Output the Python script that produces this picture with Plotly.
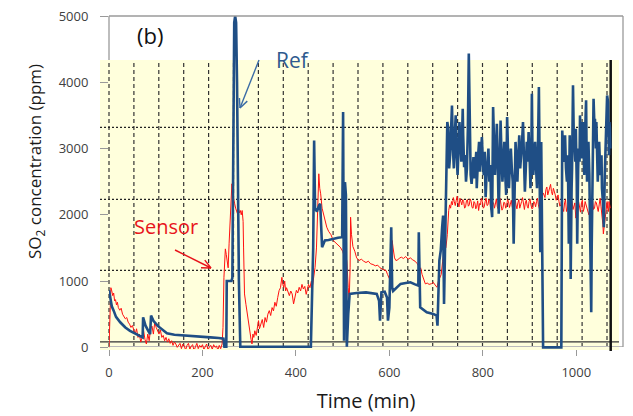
import math
import plotly.graph_objects as go

# ---------------- data ----------------
ref_t = [0, 3, 6, 10, 15, 24, 35, 45, 52, 62, 72, 73, 78, 84, 88, 90, 95, 105, 115, 124,
         140, 160, 180, 200, 217, 235, 245, 247, 251, 252, 262, 264, 266, 268, 270, 272, 274,
         276, 278, 281, 300, 350, 400, 432, 437, 439, 441, 445, 450, 452, 456, 462, 470, 480,
         490, 499, 501, 503, 505, 507, 509, 512, 515, 530, 550, 573, 578, 580, 583, 590, 595,
         597, 600, 604, 606, 608, 620, 624, 635, 645, 655, 662, 663, 666, 680, 694, 701, 703,
         707, 710, 713, 715, 717, 719, 721,
         722, 724, 726, 728, 730, 732, 734, 736, 738, 740, 742, 744, 746, 748, 750, 752, 754,
         756, 757, 758, 760, 762, 764, 766, 767, 768, 770, 772, 773, 774, 776, 778, 780, 782,
         784, 786, 787, 788, 790, 792, 794, 796, 798, 800, 802, 804, 806, 808, 810, 812, 814,
         816, 818, 820, 822, 824, 826, 828, 830, 832, 834, 836, 838, 840, 842, 844, 846, 848,
         850, 852, 854, 856, 858, 860, 862, 864, 866, 868, 870, 872, 874, 876, 878, 880, 882,
         884, 886, 888, 890, 892, 894, 896, 898, 900, 902, 904, 905, 906, 908, 910, 912, 914,
         916, 918, 920, 921, 923, 925, 927, 929,
         968, 970, 972, 973, 975, 976, 978, 980, 982, 984, 985, 986, 987, 988, 990, 991, 993,
         995, 996, 998, 999, 1001, 1002, 1004, 1005, 1007, 1008, 1010, 1011, 1013, 1014, 1016,
         1017, 1019, 1021, 1022, 1023, 1025, 1026, 1028, 1029, 1031, 1032, 1033, 1034, 1036,
         1037, 1039, 1040, 1042, 1043, 1045, 1046, 1048, 1049, 1051, 1052, 1054, 1055, 1057,
         1059, 1061, 1062, 1064, 1065, 1066, 1068, 1069, 1070, 1071, 1072, 1073]
ref_v = [860, 700, 620, 554, 460, 378, 300, 250, 227, 185, 151, 453, 330, 250, 200, 479, 400,
         320, 260, 211, 190, 177, 165, 160, 151, 140, 130, 10, 10, 1000, 1000, 1050, 3000, 4900,
         5000, 4900, 4000, 2500, 1000, 10, 10, 10, 10, 10, 1500, 3120, 2100, 2050, 2150, 2166,
         1510, 1612, 1620, 1642, 1655, 1662, 3550, 100, 2493, 2300, 10, 500, 806, 820, 830, 806,
         700, 403, 830, 840, 750, 403, 600, 1812, 900, 850, 932, 958, 970, 982, 950, 932, 1737,
         604, 529, 504, 479, 328, 1310, 1461, 1813, 1989, 655, 1500, 2500,
         2971, 3400, 3300, 2700, 2900, 3300, 3650, 3000, 2700, 3200, 3500, 2900, 2600, 3000,
         3400, 3100, 2800, 3300, 3600, 3200, 2719, 2900, 2500, 2700, 2900, 3300, 4432, 3200,
         2719, 2600, 2468, 2700, 2870, 2550, 2700, 2950, 2400, 2650, 2900, 3100, 2650, 2900,
         3172, 2800, 2600, 2950, 2266, 2600, 2800, 3000, 2500, 2750, 2115, 1964, 3625, 3000,
         2600, 2900, 3374, 2800, 2015, 2700, 3424, 2900, 2500, 2800, 3100, 2600, 2300, 3474,
         3000, 2400, 2800, 3000, 2700, 2500, 1562, 2600, 3100, 2800, 2500, 2900, 3200, 2700,
         2850, 3100, 3400, 2800, 2350, 2700, 3100, 2800, 3250, 2900, 2400, 3000, 3828, 3100,
         2600, 2900, 3100, 2700, 2400, 3000, 3928, 3200, 1435, 3100, 1411, 0,
         0, 3273, 2900, 2800, 3100, 3200, 2700, 2500, 2900, 1562, 2600, 3200, 2400, 1033, 2400,
         2700, 3953, 3000, 3100, 2800, 3300, 2500, 1562, 2700, 3000, 2800, 3500, 3000, 2850,
         3200, 3400, 2900, 2600, 3250, 3727, 3000, 2500, 2900, 3100, 2600, 2000, 1200, 529,
         1500, 2300, 3000, 3752, 3300, 3450, 3000, 3400, 2800, 2500, 2900, 3100, 2700, 2600,
         2900, 2400, 2200, 1813, 2600, 2900, 3300, 3600, 3800, 3700, 3200, 2900, 3400, 3300,
         3000]

sensor_t = [0, 2, 4, 6, 8, 10, 12, 14, 16, 18, 20, 23, 26, 29, 32, 35, 38, 41, 44, 47, 50, 53,
            56, 59, 62, 65, 68, 71, 74, 77, 80, 83, 86, 89, 92, 95, 98, 101, 104, 107, 110, 113,
            116, 119, 122, 125, 128, 131, 134, 137, 140, 143, 146, 149, 152, 155, 158, 161, 164,
            167, 170, 173, 176, 179, 182, 185, 188, 191, 194, 197, 200, 203, 206, 209, 212, 215,
            218, 221, 224, 227, 230, 233, 236, 239, 242, 244, 246, 248, 249, 251, 253, 255, 257,
            259, 261, 263, 265, 267, 269, 271, 273, 275, 277, 279, 281, 283, 285, 287, 288, 290,
            293, 295, 297, 299, 302, 304, 306, 308, 310, 312, 315, 318, 320, 322, 325, 328, 331,
            334, 337, 340, 343, 346, 349, 352, 355, 358, 361, 364, 367, 370, 372, 374, 376, 378,
            380, 383, 386, 389, 392, 395, 398, 401, 404, 407, 410, 413, 416, 419, 422, 424, 427,
            430, 433, 436, 438, 441, 444, 447, 449, 451, 453, 456, 459, 462, 466, 470, 475, 480,
            485, 490, 495, 500, 503, 506, 509, 512, 514, 516, 517, 519, 522, 526, 530, 535, 540,
            545, 550, 555, 560, 565, 570, 575, 580, 585, 590, 593, 596, 599, 602, 604, 606, 608,
            611, 614, 618, 622, 626, 630, 635, 640, 645, 650, 655, 660, 662, 664, 667, 670, 674,
            677, 681, 685, 690, 694, 698, 702, 705, 708, 711, 714, 716, 718, 721, 724,
            727, 729, 731, 733, 735, 737, 739, 741, 743, 745, 747, 749, 751, 753, 755, 757, 759,
            761, 763, 765, 767, 769, 771, 773, 775, 777, 779, 781, 783, 785, 787, 789, 791, 793,
            795, 797, 799, 801, 803, 805, 807, 809, 811, 813, 815, 817, 819, 821, 823, 825, 827,
            829, 831, 833, 835, 837, 839, 841, 843, 845, 847, 849, 851, 853, 855, 857, 859, 861,
            863, 865, 867, 869, 871, 873, 875, 877, 879, 881, 883, 885, 887, 889, 891, 893, 895,
            897, 899, 901, 903, 905, 907, 909, 911, 913, 915, 917, 919, 921, 923, 925, 927, 929,
            931, 933, 935, 937, 939, 941, 943, 945, 947, 949, 951, 953, 955, 957, 959, 961, 963,
            965, 967, 969, 971, 973, 975, 977, 979, 981, 983, 985, 987, 989, 991, 993, 995, 997,
            999, 1001, 1003, 1005, 1007, 1009, 1011, 1013, 1015, 1017, 1019, 1021, 1023, 1025,
            1027, 1029, 1031, 1033, 1035, 1037, 1039, 1041, 1043, 1045, 1047, 1049, 1051, 1053,
            1055, 1057, 1058, 1060, 1061, 1063, 1064, 1066, 1067, 1069, 1070, 1072, 1073]
sensor_v = [0, 500, 900, 850, 780, 820, 700, 720, 640, 680, 600, 560, 590, 500, 470, 430, 450,
            380, 350, 300, 330, 250, 200, 280, 150, 200, 80, 150, 250, 120, 50, 200, 100, 280,
            320, 200, 380, 300, 250, 200, 260, 150, 180, 100, 150, 80, 130, 60, 100, 30, 80, 50,
            0, 40, 60, -20, 50, 20, -40, 30, 60, -30, 20, 40, -50, 10, 60, -20, 30, 0, 40, -30,
            20, 50, -40, 10, 30, -30, 40, 0, 20, -40, 30, -20, 50, 300, 1057, 1300, 1486, 1400,
            1260, 1200, 1562, 1800, 2200, 2468, 2300, 2200, 2166, 2100, 2050, 2015, 2100, 2030,
            2065, 2000, 2065, 1900, 1500, 806, 650, 554, 420, 302, 200, 120, 51, 200, 150, 250,
            180, 300, 403, 280, 350, 420, 300, 450, 380, 500, 554, 480, 600, 550, 680, 620, 750,
            856, 900, 1057, 950, 906, 1000, 850, 900, 820, 780, 850, 806, 655, 780, 860, 820,
            906, 850, 950, 880, 920, 800, 856, 950, 900, 1000, 950, 1037, 1208, 1500, 2300, 2619,
            2400, 2317, 2100, 2015, 1950, 1813, 1750, 1700, 1612, 1580, 1540, 1511, 1450, 1385,
            1420, 1300, 900, 705, 1200, 1964, 1700, 1520, 1450, 1350, 1310, 1330, 1300, 1280,
            1300, 1260, 1250, 1230, 1240, 1200, 1180, 1160, 1158, 1100, 1050, 1007, 1150, 1612,
            1500, 1350, 1310, 1320, 1350, 1360, 1340, 1370, 1330, 1350, 1320, 1300, 1260, 1234,
            1158, 1200, 1100, 1000, 958, 970, 950, 960, 982, 940, 906, 1000, 1057, 1100, 1300,
            1400, 1511, 1500, 1700,
            2065, 2150, 2100, 2200, 2150, 2260, 2200, 2140, 2216, 2280, 2180, 2120, 2250, 2190,
            2150, 2230, 2200, 2100, 2120, 2210, 2230, 2130, 2150, 2240, 2200, 2110, 2100, 2200,
            2180, 2090, 2130, 2210, 2065, 2170, 2150, 2250, 2200, 2100, 2120, 2200, 2250, 2140,
            2150, 2230, 2200, 2080, 2100, 2190, 2180, 2100, 2160, 2240, 2120, 2090, 2200, 2250,
            2150, 2070, 2100, 2190, 2180, 2100, 2140, 2230, 2200, 2110, 2160, 2220, 2120, 2060,
            2200, 2240, 2150, 2090, 2180, 2230, 2100, 2140, 2200, 2260, 2140, 2080, 2180, 2220,
            2130, 2100, 2200, 2240, 2150, 2090, 2100, 2200, 2180, 2120, 2200, 2250, 2150, 2090,
            2120, 2200, 2250, 2330, 2300, 2260, 2380, 2420, 2300, 2350, 2420, 2460, 2350, 2300,
            2400, 2360, 2300, 2220, 2250, 2300, 2200, 2130, 2150, 2240, 2100, 2050, 2180, 2230,
            2050, 2100, 2150, 2080, 2100, 2220, 2200, 2080, 2120, 2180, 1950, 2080, 2150, 2200,
            2100, 2040, 2180, 2220, 2050, 2100, 2200, 2150, 2100, 2060, 2000, 2100, 2150, 2230,
            2200, 2080, 2100, 2200, 2180, 2100, 2050, 2150, 2250, 2120, 2000, 1850, 1712, 1850,
            1900, 2050, 2150, 2200, 2100, 2050, 2200, 2150, 2100]

x_ticks = [0, 200, 400, 600, 800, 1000]
y_ticks = [0, 1000, 2000, 3000, 4000, 5000]

# ---------------- layout geometry ----------------
W, H = 633, 416
ML, MR, MT, MB = 109, 10, 16, 67
PW, PH = W - ML - MR, H - MT - MB


def px(xp):
    return (xp - ML) / PW


def py(yp):
    return (H - MB - yp) / PH


BLUE = "#1F4E85"
RED = "#FF1010"
YELLOW = "#FFFFDC"

shapes = []
# pale yellow overlay panel
shapes.append(dict(type="rect", xref="paper", yref="paper", x0=px(100), x1=px(619),
                   y0=py(350), y1=py(60), fillcolor=YELLOW, line=dict(width=0), layer="below"))
# vertical dashed grid of the overlay
for k in range(21):
    xp = 109 + k * 24.9
    shapes.append(dict(type="line", xref="paper", yref="paper", x0=px(xp), x1=px(xp),
                       y0=py(347), y1=py(60), layer="below",
                       line=dict(color="#333333", width=1.2, dash="4px,3px")))
# horizontal dotted grid of the overlay
for yp in [127.3, 199.3, 270.3]:
    shapes.append(dict(type="line", xref="paper", yref="paper", x0=px(100), x1=px(610),
                       y0=py(yp), y1=py(yp), layer="below",
                       line=dict(color="#222222", width=1.3, dash="2px,2px")))
# overlay base line
shapes.append(dict(type="line", xref="paper", yref="paper", x0=px(100), x1=px(619),
                   y0=py(341.9), y1=py(341.9), layer="below",
                   line=dict(color="#333333", width=1.3)))
# light axis base line
shapes.append(dict(type="line", xref="paper", yref="paper", x0=px(109), x1=px(623),
                   y0=py(346.5), y1=py(346.5), layer="below",
                   line=dict(color="#BBBBBB", width=1)))
# thick right bar of overlay
shapes.append(dict(type="line", xref="paper", yref="paper", x0=px(610.7), x1=px(610.7),
                   y0=py(351), y1=py(60), layer="below",
                   line=dict(color="#111111", width=2.5)))
# grey frame
FR = "#9A9A9A"
shapes.append(dict(type="line", xref="paper", yref="paper", x0=0, x1=1, y0=1, y1=1,
                   line=dict(color=FR, width=1.3)))
shapes.append(dict(type="line", xref="paper", yref="paper", x0=1, x1=1, y0=py(347), y1=1,
                   line=dict(color=FR, width=1.3)))
shapes.append(dict(type="line", xref="paper", yref="paper", x0=0, x1=0, y0=py(60), y1=1,
                   line=dict(color=FR, width=1.3)))


def arrow(x0, y0, x1, y1, color, head=10, ang=25):
    """Pointer arrow drawn with line shapes (pixel coords: tail -> head)."""
    out = [dict(type="line", xref="paper", yref="paper", x0=px(x0), y0=py(y0),
                x1=px(x1), y1=py(y1), line=dict(color=color, width=1.4))]
    a = math.atan2(y0 - y1, x0 - x1)
    for s in (-1, 1):
        b = a + s * math.radians(ang)
        out.append(dict(type="line", xref="paper", yref="paper", x0=px(x1), y0=py(y1),
                        x1=px(x1 + head * math.cos(b)), y1=py(y1 + head * math.sin(b)),
                        line=dict(color=color, width=1.4)))
    return out


shapes += arrow(259, 60, 240, 108, "#3A6BA5")
shapes += arrow(175, 250, 211, 268, "#E8141B")

fig = go.Figure()
fig.add_trace(go.Scatter(x=sensor_t, y=sensor_v, mode="lines", name="Sensor",
                         line=dict(color=RED, width=1)))
fig.add_trace(go.Scatter(x=ref_t, y=ref_v, mode="lines", name="Ref",
                         line=dict(color=BLUE, width=2.6)))

FONT = "Open Sans"
annotations = [
    dict(text="(b)", xref="paper", yref="paper", x=px(150), y=py(35), showarrow=False,
         xanchor="center", yanchor="middle",
         font=dict(family=FONT, size=22, color="#111111")),
    dict(text="Ref", xref="paper", yref="paper", x=px(293), y=py(60), showarrow=False,
         xanchor="center", yanchor="middle",
         font=dict(family=FONT, size=21, color="#2E5A8E")),
    dict(text="Sensor", xref="paper", yref="paper", x=px(166), y=py(226), showarrow=False,
         xanchor="center", yanchor="middle",
         font=dict(family=FONT, size=20, color="#E8141B")),
    # y-axis title
    dict(text="SO<sub>2</sub> concentration (ppm)", xref="paper", yref="paper",
         x=px(35), y=py(162), showarrow=False, textangle=-90,
         xanchor="center", yanchor="middle",
         font=dict(family=FONT, size=17, color="#1A1A1A")),
]

fig.update_layout(
    width=W, height=H,
    margin=dict(l=ML, r=MR, t=MT, b=MB, autoexpand=False),
    paper_bgcolor="white", plot_bgcolor="white",
    showlegend=False,
    shapes=shapes,
    annotations=annotations,
    font=dict(family=FONT, color="#404040"),
)
fig.update_xaxes(range=[0, 1100], tickvals=x_ticks, ticks="outside", ticklen=6,
                 tickcolor="#999999", showgrid=False, zeroline=False, showline=False,
                 automargin=False,
                 tickfont=dict(size=13, color="#404040"), ticklabelstandoff=5,
                 title=dict(text="Time (min)", font=dict(size=20, color="#1A1A1A"), standoff=14))
fig.update_yaxes(range=[-25, 5000], tickvals=y_ticks, ticks="outside", ticklen=8,
                 tickcolor="#999999", showgrid=False, zeroline=False, showline=False,
                 automargin=False,
                 tickfont=dict(size=13, color="#404040"), ticklabelstandoff=9)

fig.write_html("out.html")
